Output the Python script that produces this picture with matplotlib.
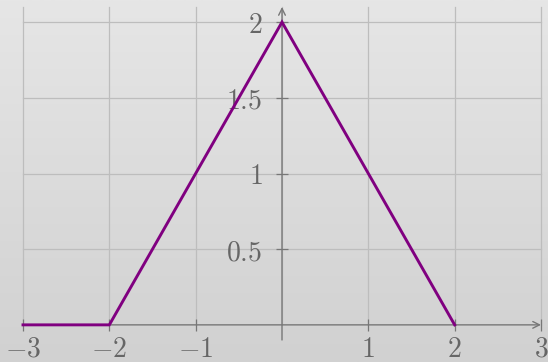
import numpy as np
import matplotlib
matplotlib.use('Agg')
import matplotlib.pyplot as plt

plt.rcParams['mathtext.fontset'] = 'cm'

# piecewise linear function
x_vals = [-3, -2, 0, 2]
y_vals = [0, 0, 2, 0]

x_ticks = [-3, -2, -1, 1, 2, 3]
y_ticks = [0.5, 1, 1.5, 2]
x_grid = [-3, -2, -1, 0, 1, 2, 3]

axis_col = '#777777'
text_col = '#666666'
grid_col = '#bdbdbd'

fig = plt.figure(figsize=(5.48, 3.62), dpi=100)

# gradient background
bg = fig.add_axes([0, 0, 1, 1])
grad = np.linspace(0, 1, 256).reshape(-1, 1)
bg.imshow(grad, aspect='auto', cmap=matplotlib.colors.LinearSegmentedColormap.from_list(
    'bg', ['#e6e6e6', '#d1d1d1']), extent=[0, 1, 0, 1], origin='upper')
bg.axis('off')

W, H = 548, 362
ax = fig.add_axes([23 / W, 22 / H, 518 / W, 333 / H])
ax.set_facecolor('none')
ax.set_xlim(-3, 3)
ax.set_ylim(-0.1, 2.1)

for s in ax.spines.values():
    s.set_visible(False)
ax.spines['left'].set_position('zero')
ax.spines['bottom'].set_position('zero')

# grid
for gx in x_grid:
    ax.plot([gx, gx], [0, 2.1], color=grid_col, lw=0.9, zorder=1, clip_on=False)
for gy in y_ticks:
    ax.plot([-3, 3], [gy, gy], color=grid_col, lw=0.9, zorder=1, clip_on=False)

# axis lines with arrows
ax.annotate('', xy=(3.0, 0), xytext=(-3, 0),
            arrowprops=dict(arrowstyle='->', color=axis_col, lw=1.0,
                            shrinkA=0, shrinkB=0, mutation_scale=12), zorder=2)
ax.annotate('', xy=(0, 2.1), xytext=(0, -0.1),
            arrowprops=dict(arrowstyle='->', color=axis_col, lw=1.0,
                            shrinkA=0, shrinkB=0, mutation_scale=12), zorder=2)

ax.set_xticks(x_ticks)
ax.set_xticklabels(['$%d$' % t for t in x_ticks])
ax.set_yticks(y_ticks)
ax.set_yticklabels(['$%g$' % t for t in y_ticks])
ax.tick_params(axis='both', direction='inout', length=8, width=0.9, color=axis_col,
               labelcolor=text_col, labelsize=20)
ax.tick_params(axis='x', pad=3)
ax.tick_params(axis='y', pad=10)

ax.plot(x_vals, y_vals, color='#800080', lw=2.1, zorder=3, clip_on=False,
        solid_joinstyle='miter')

fig.savefig('out.png', dpi=100)
